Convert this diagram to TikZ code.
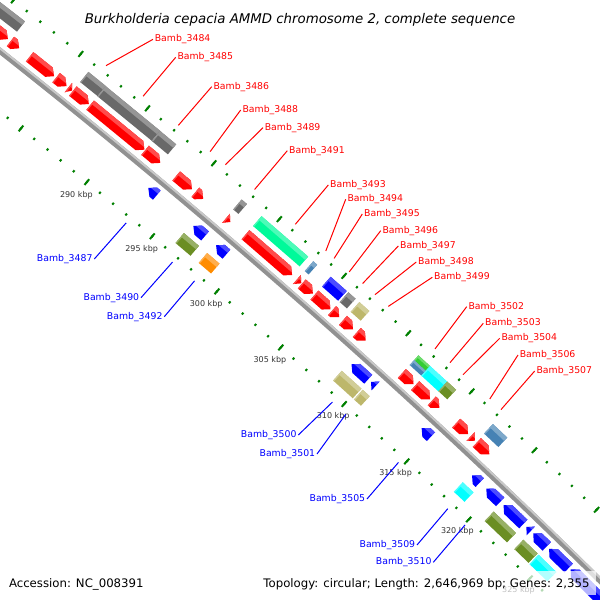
\documentclass[tikz,border=0pt]{standalone}
\usepackage{fontspec}
\setmainfont{DejaVu Sans}

\definecolor{genered}{RGB}{255,0,0}
\definecolor{geneblue}{RGB}{0,0,255}
\definecolor{cogdim}{RGB}{105,105,105}
\definecolor{cogspring}{RGB}{0,250,154}
\definecolor{cogsteel}{RGB}{70,130,180}
\definecolor{cogkhaki}{RGB}{189,183,107}
\definecolor{cogolive}{RGB}{107,142,35}
\definecolor{cogorange}{RGB}{255,140,0}
\definecolor{cogcyan}{RGB}{0,255,255}
\definecolor{coglime}{RGB}{50,205,50}
\definecolor{tickgreen}{RGB}{0,128,0}

\newcommand\kdeg{0.1360046}% degrees of arc per kbp
\newcommand\kpx{17.12}% pixels of arc per kbp

% forward gene, outer lane, head at the end
\newcommand\fwdgene[2]{%
  \pgfmathsetmacro\gr{(#1+#2)/2*\kdeg-90}%
  \pgfmathsetmacro\gb{(#2-#1)/2*\kpx}%
  \pgfmathsetmacro\gh{\gb-min(6.5,2*\gb)}%
  \begin{scope}[rotate=\gr]
    \fill[genered] (7214,-\gb) -- (7226,-\gb) -- (7226,\gh) -- (7220,\gb) -- (7214,\gh) -- cycle;
    \begin{scope}
      \clip (7214,-\gb) -- (7226,-\gb) -- (7226,\gh) -- (7220,\gb) -- (7214,\gh) -- cycle;
      \fill[genered!70!white] (7221.8,-\gb) rectangle (7226,\gb);
      \fill[genered!70!white] (7214,-\gb) rectangle (7226,-\gb+1.2);
    \end{scope}
  \end{scope}}

% reverse gene, inner lane, head at the start
\newcommand\revgene[2]{%
  \pgfmathsetmacro\gr{(#1+#2)/2*\kdeg-90}%
  \pgfmathsetmacro\gb{(#2-#1)/2*\kpx}%
  \pgfmathsetmacro\gk{min(6.5,2*\gb)-\gb}%
  \begin{scope}[rotate=\gr]
    \fill[geneblue] (7193,-\gb) -- (7199,\gk) -- (7199,\gb) -- (7187,\gb) -- (7187,\gk) -- cycle;
    \begin{scope}
      \clip (7193,-\gb) -- (7199,\gk) -- (7199,\gb) -- (7187,\gb) -- (7187,\gk) -- cycle;
      \fill[geneblue!70!white] (7194.8,-\gb) rectangle (7199,\gb);
    \end{scope}
  \end{scope}}

% COG box: start, end, inner radius, outer radius, colour
\newcommand\cogbox[5]{%
  \pgfmathsetmacro\gr{(#1+#2)/2*\kdeg-90}%
  \pgfmathsetmacro\gb{(#2-#1)/2*\kpx}%
  \pgfmathsetmacro\gl{#4-0.35*(#4-#3)}%
  \begin{scope}[rotate=\gr]
    \fill[#5] (#3,-\gb) rectangle (#4,\gb);
    \fill[#5!70!white] (\gl,-\gb) rectangle (#4,\gb);
    \fill[#5!70!white] (#3,-\gb) rectangle (#4,-\gb+1.2);
  \end{scope}}

% gene labels: number, kbp, x, y
\newcommand\redtag[4]{%
  \node[redtag] (t#1) at (#3,#4) {Bamb\_#1};
  \coordinate (e#1) at ([shift={(-4460.5,5710.1)}]#2*\kdeg-90:7260.5);
  \draw[redlead] (t#1.west) -- (e#1);}
\newcommand\bluetag[4]{%
  \node[bluetag] (t#1) at (#3,#4) {Bamb\_#1};
  \coordinate (e#1) at ([shift={(-4460.5,5710.1)}]#2*\kdeg-90:7152);
  \draw[bluelead] (t#1.east) -- (e#1);}

\tikzset{every picture/.style={line width=0.75pt},
  backbone/.style={line width=4.5pt, draw={rgb, 255:red, 145; green, 145; blue, 145}},
  backbonelit/.style={line width=1.5pt, draw={rgb, 255:red, 200; green, 200; blue, 200}},
  tickmark/.style={line width=1.5pt, draw=tickgreen},
  kbplbl/.style={font=\fontsize{6}{7}\selectfont, text={rgb, 255:red, 51; green, 51; blue, 51}, inner sep=0pt},
  redtag/.style={anchor=west, font=\fontsize{7}{8}\selectfont, text=red, inner sep=1pt},
  bluetag/.style={anchor=east, font=\fontsize{7}{8}\selectfont, text=blue, inner sep=1pt},
  redlead/.style={draw=red, line width=0.75pt},
  bluelead/.style={draw=blue, line width=0.75pt},
  legendtxt/.style={font=\fontsize{8.8}{10}\selectfont, inner sep=0pt}}

\begin{document}
\begin{tikzpicture}[x=0.75pt,y=0.75pt,yscale=-1,xscale=1]
\path[use as bounding box, fill=white] (0,0) rectangle (600,600);

\begin{scope}[shift={(-4460.5,5710.1)}]
	%Backbone
	\draw[backbone] (270*\kdeg-90:7206) arc[start angle=270*\kdeg-90, end angle=335*\kdeg-90, radius=7206];
	\draw[backbonelit] (270*\kdeg-90:7208) arc[start angle=270*\kdeg-90, end angle=335*\kdeg-90, radius=7208];

	%Ticks
	\foreach \k in {274,...,334}{
		\draw[tickmark] (\k*\kdeg-90:7252.8) -- (\k*\kdeg-90:7255.2);
		\draw[tickmark] (\k*\kdeg-90:7157.3) -- (\k*\kdeg-90:7159.7);
	}
	\foreach \k in {275,280,...,330}{
		\draw[tickmark] (\k*\kdeg-90:7250.3) -- (\k*\kdeg-90:7257.7);
		\draw[tickmark] (\k*\kdeg-90:7154.8) -- (\k*\kdeg-90:7162.2);
	}
	\foreach \k in {290,295,...,325}
		\node[kbplbl] (k\k) at (\k*\kdeg-90:7142) {\k\ kbp};

	%Forward genes
	\fwdgene{274.0}{281.15}
	\fwdgene{281.35}{282.0}
	\fwdgene{282.78}{284.6}
	\fwdgene{284.75}{285.53}
	\fwdgene{285.67}{285.95}
	\fwdgene{286.0}{287.2}
	\fwdgene{287.3}{291.4}
	\fwdgene{291.45}{292.6}
	\fwdgene{293.8}{295.0}
	\fwdgene{295.27}{295.87}
	\fwdgene{297.62}{297.95}
	\fwdgene{299.1}{302.7}
	\fwdgene{303.08}{303.42}
	\fwdgene{303.47}{304.33}
	\fwdgene{304.45}{305.7}
	\fwdgene{305.82}{306.38}
	\fwdgene{306.68}{307.46}
	\fwdgene{307.75}{308.45}
	\fwdgene{311.3}{312.22}
	\fwdgene{312.35}{313.53}
	\fwdgene{313.67}{314.27}
	\fwdgene{315.6}{316.54}
	\fwdgene{316.75}{317.1}
	\fwdgene{317.25}{318.25}

	%Forward COG boxes
	\cogbox{274.0}{281.3}{7231.5}{7244.5}{cogdim}
	\cogbox{286.0}{287.3}{7231.5}{7244.5}{cogdim}
	\cogbox{287.3}{291.4}{7231.5}{7244.5}{cogdim}
	\cogbox{291.4}{292.62}{7231.5}{7244.5}{cogdim}
	\cogbox{297.6}{298.0}{7231.5}{7244.5}{cogdim}
	\cogbox{299.1}{302.7}{7231.5}{7244.5}{cogspring}
	\cogbox{303.1}{303.4}{7231.5}{7244.5}{cogsteel}
	\cogbox{304.45}{305.7}{7231.5}{7244.5}{geneblue}
	\cogbox{305.82}{306.38}{7231.5}{7244.5}{cogdim}
	\cogbox{306.68}{307.46}{7231.5}{7244.5}{cogkhaki}
	\cogbox{311.3}{312.22}{7238}{7244.5}{coglime}
	\cogbox{311.3}{312.22}{7231.5}{7238}{cogsteel}
	\cogbox{312.22}{313.57}{7231.5}{7244.5}{cogcyan}
	\cogbox{313.57}{314.27}{7231.5}{7244.5}{cogolive}
	\cogbox{317.2}{318.35}{7231.5}{7244.5}{cogsteel}

	%Reverse genes
	\revgene{293.0}{293.65}
	\revgene{296.45}{297.35}
	\revgene{298.2}{299.0}
	\revgene{308.75}{310.07}
	\revgene{310.3}{310.66}
	\revgene{314.31}{315.05}
	\revgene{318.36}{318.98}
	\revgene{319.5}{320.62}
	\revgene{320.9}{322.5}
	\revgene{322.75}{323.1}
	\revgene{323.3}{324.4}
	\revgene{324.6}{326.2}
	\revgene{326.35}{334.0}

	%Reverse COG boxes
	\cogbox{296.3}{297.45}{7168.5}{7181.5}{cogolive}
	\cogbox{298.1}{299.05}{7168.5}{7181.5}{cogorange}
	\cogbox{308.6}{310.15}{7168.5}{7181.5}{cogkhaki}
	\cogbox{310.25}{310.8}{7168.5}{7181.5}{cogkhaki}
	\cogbox{318.25}{319.1}{7168.5}{7181.5}{cogcyan}
	\cogbox{320.75}{322.55}{7168.5}{7181.5}{cogolive}
	\cogbox{323.15}{324.3}{7168.5}{7181.5}{cogolive}
	\cogbox{324.4}{325.85}{7168.5}{7181.5}{cogcyan}
\end{scope}

	% Text Node
	\draw (300,23.3) node[anchor=base, font=\fontsize{10}{12}\selectfont\itshape] (title) {Burkholderia cepacia AMMD chromosome 2, complete sequence};

	%Labels, forward strand
	\redtag{3484}{286.57}{153}{39.3}
	\redtag{3485}{289.36}{175.7}{57.3}
	\redtag{3486}{292.01}{211.7}{86.7}
	\redtag{3488}{294.4}{240.7}{110}
	\redtag{3489}{295.57}{263}{127.7}
	\redtag{3491}{297.79}{287.3}{150.7}
	\redtag{3493}{300.9}{328.3}{185}
	\redtag{3494}{303.25}{345.7}{199.3}
	\redtag{3495}{303.9}{362.3}{214}
	\redtag{3496}{305.07}{380.7}{230.7}
	\redtag{3497}{306.1}{398.3}{246}
	\redtag{3498}{307.07}{416.3}{262}
	\redtag{3499}{308.1}{432.3}{277.3}
	\redtag{3502}{311.76}{466.7}{306.7}
	\redtag{3503}{312.94}{483.3}{323.3}
	\redtag{3504}{313.97}{499.7}{338.3}
	\redtag{3506}{316.07}{518}{355}
	\redtag{3507}{316.96}{534.7}{371}

	%Labels, reverse strand
	\bluetag{3487}{293.32}{94.3}{259}
	\bluetag{3490}{296.89}{141}{297.7}
	\bluetag{3492}{298.6}{164.3}{316.7}
	\bluetag{3500}{309.41}{298.3}{435}
	\bluetag{3501}{310.48}{317}{454}
	\bluetag{3505}{314.68}{367}{499}
	\bluetag{3509}{318.67}{417}{545}
	\bluetag{3510}{320.06}{433.3}{562.3}

	%Legend
	\fill[white, fill opacity=0.7] (4,571) rectangle (596,595);
	\draw (8.5,587) node[legendtxt, anchor=base west] (acc) {Accession: NC\_008391};
	\draw (590,587) node[legendtxt, anchor=base east] (topo) {Topology: circular; Length: 2,646,969 bp; Genes: 2,355};

\end{tikzpicture}
\end{document}
